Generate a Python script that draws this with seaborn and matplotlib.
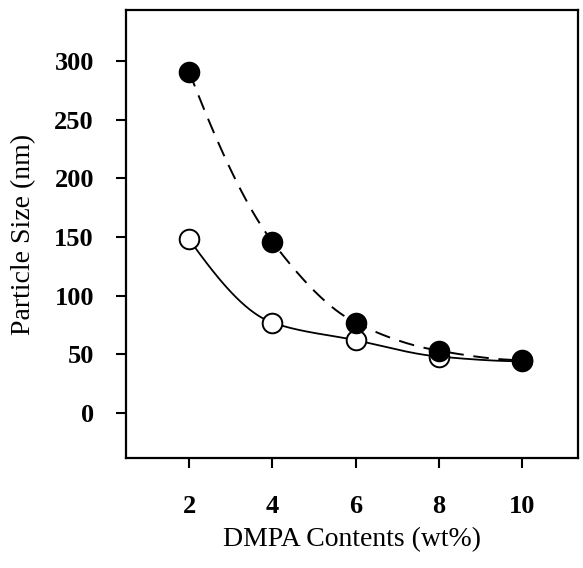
import numpy as np
import pandas as pd
import matplotlib
matplotlib.use("Agg")
import matplotlib.pyplot as plt
import seaborn as sns

# Data
dmpa = [2, 4, 6, 8, 10]
size_filled = [291, 146, 77, 53, 45]
size_open = [148, 77, 62, 48, 44]
x_ticks = [2, 4, 6, 8, 10]
y_ticks = [0, 50, 100, 150, 200, 250, 300]


def pchip(x, y, xs):
    x = np.asarray(x, float)
    y = np.asarray(y, float)
    h = np.diff(x)
    d = np.diff(y) / h
    n = len(x)
    m = np.zeros(n)
    for k in range(1, n - 1):
        if d[k - 1] * d[k] > 0:
            w1 = 2 * h[k] + h[k - 1]
            w2 = h[k] + 2 * h[k - 1]
            m[k] = (w1 + w2) / (w1 / d[k - 1] + w2 / d[k])
    m[0] = ((2 * h[0] + h[1]) * d[0] - h[0] * d[1]) / (h[0] + h[1])
    if np.sign(m[0]) != np.sign(d[0]):
        m[0] = 0
    m[-1] = ((2 * h[-1] + h[-2]) * d[-1] - h[-1] * d[-2]) / (h[-1] + h[-2])
    if np.sign(m[-1]) != np.sign(d[-1]):
        m[-1] = 0
    out = np.empty_like(xs, dtype=float)
    for i, xv in enumerate(xs):
        k = min(np.searchsorted(x, xv, side="right") - 1, n - 2)
        t = (xv - x[k]) / h[k]
        h00 = 2 * t**3 - 3 * t**2 + 1
        h10 = t**3 - 2 * t**2 + t
        h01 = -2 * t**3 + 3 * t**2
        h11 = t**3 - t**2
        out[i] = h00 * y[k] + h10 * h[k] * m[k] + h01 * y[k + 1] + h11 * h[k] * m[k + 1]
    return out


sns.set_theme(style="white")
plt.rcParams["font.family"] = ["Liberation Serif", "DejaVu Serif"]

fig = plt.figure(figsize=(5.83, 5.68), dpi=100)
ax = fig.add_axes([0.216, 0.194, 0.775, 0.788])

xs = np.linspace(dmpa[0], dmpa[-1], 300)
curve_f = pd.DataFrame({"x": xs, "y": pchip(dmpa, size_filled, xs)})
curve_o = pd.DataFrame({"x": xs, "y": pchip(dmpa, size_open, xs)})

sns.lineplot(data=curve_o, x="x", y="y", ax=ax, color="black", lw=1.3, zorder=2)
sns.lineplot(data=curve_f, x="x", y="y", ax=ax, color="black", lw=1.4, zorder=2,
             dashes=False)
ax.lines[-1].set_dashes([8, 5])

df_o = pd.DataFrame({"x": dmpa, "y": size_open})
df_f = pd.DataFrame({"x": dmpa, "y": size_filled})
sns.scatterplot(data=df_o, x="x", y="y", ax=ax, s=200, color="white",
                edgecolor="black", linewidth=1.4, zorder=3)
sns.scatterplot(data=df_f, x="x", y="y", ax=ax, s=200, color="black",
                edgecolor="black", linewidth=1.4, zorder=4)

ax.set_xlim(0.48, 11.34)
ax.set_ylim(-38.4, 343.6)
ax.set_xticks(x_ticks)
ax.set_yticks(y_ticks)
ax.set_xticklabels([str(v) for v in x_ticks], fontsize=19, fontweight="bold")
ax.set_yticklabels([str(v) for v in y_ticks], fontsize=19, fontweight="bold")
ax.tick_params(axis="both", which="major", bottom=True, left=True,
               direction="out", length=7, width=1.5, color="black",
               labelcolor="black")
ax.tick_params(axis="x", pad=20)
ax.tick_params(axis="y", pad=16)
for sp in ax.spines.values():
    sp.set_visible(True)
    sp.set_color("black")
    sp.set_linewidth(1.6)

ax.set_xlabel("DMPA Contents (wt%)", fontsize=20, labelpad=6, color="black")
ax.set_ylabel("Particle Size (nm)", fontsize=20, labelpad=13, color="black")

fig.savefig("out.png", dpi=100, facecolor="white")
